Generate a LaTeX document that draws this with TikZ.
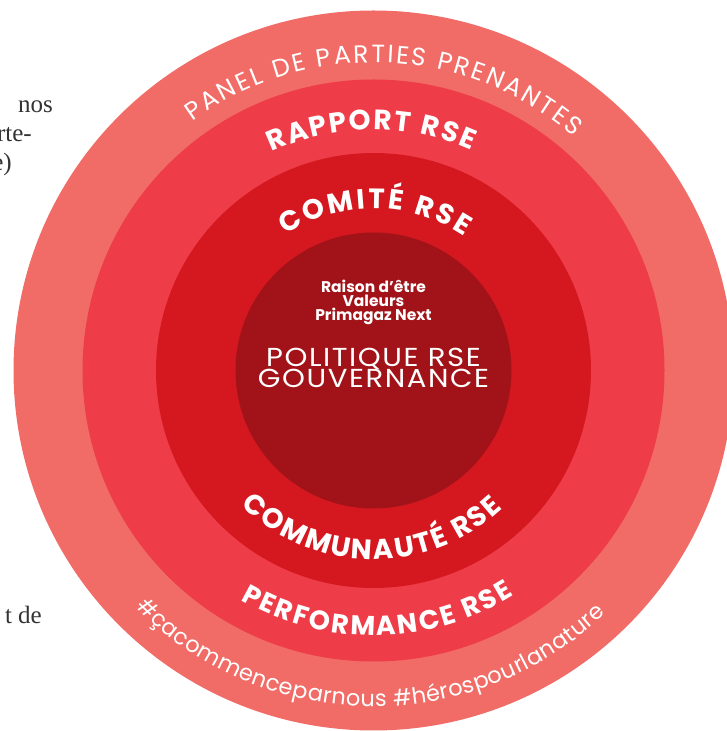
\documentclass[tikz,border=0pt]{standalone}
\usepackage{fontspec}
\setmainfont{Liberation Serif}
\newfontfamily\pop{Poppins}
\newfontfamily\popwide[FakeStretch=1.12,LetterSpace=6]{Poppins}
\usetikzlibrary{decorations.text}
\definecolor{ringA}{HTML}{F16C67}
\definecolor{ringB}{HTML}{EE3C48}
\definecolor{ringC}{HTML}{D51820}
\definecolor{ringD}{HTML}{A11318}
\definecolor{bodytext}{HTML}{333333}
\tikzset{
  ring/.style={circle, draw=none, inner sep=0pt, fill=#1},
  pagetext/.style={anchor=base east, inner sep=0pt, text=bodytext, font=\fontsize{25}{30}\selectfont},
  smallc/.style={anchor=base, inner sep=0pt, text=white, font=\pop\bfseries\fontsize{15.5}{18}\selectfont},
  bigc/.style={anchor=base, inner sep=0pt, text=white, font=\popwide\fontsize{26}{30}\selectfont},
}
\begin{document}
\begin{tikzpicture}[x=1pt,y=1pt]
\useasboundingbox (0,0) rectangle (727,731);
\clip (0,0) rectangle (727,731);
\coordinate (c) at (373.5,360.5);
\node[ring=ringA, minimum size=720pt] (r1) at (c) {};
\node[ring=ringB, minimum size=582pt] (r2) at (c) {};
\node[ring=ringC, minimum size=435pt] (r3) at (c) {};
\node[ring=ringD, minimum size=276pt] (r4) at (c) {};
% curved texts
\path[decorate, decoration={text along path, text align={fit to path}, text color=white,
  text={|\pop\fontsize{25}{30}\selectfont|PANEL DE PARTIES PRENANTES}}]
  (c) ++(126:308pt) arc[start angle=126, end angle=49.5, radius=308pt];
\path[decorate, decoration={text along path, text align={fit to path}, text color=white,
  text={|\pop\bfseries\fontsize{28}{32}\selectfont|RAPPORT RSE}}]
  (c) ++(115:241pt) arc[start angle=115, end angle=66, radius=241pt];
\path[decorate, decoration={text along path, text align={fit to path}, text color=white,
  text={|\pop\bfseries\fontsize{28}{32}\selectfont|COMITÉ RSE}}]
  (c) ++(123:162pt) arc[start angle=123, end angle=56, radius=162pt];
\path[decorate, decoration={text along path, text align={fit to path}, text color=white,
  text={|\pop\bfseries\fontsize{28}{32}\selectfont|COMMUNAUTÉ RSE}}]
  (c) ++(225.5:189pt) arc[start angle=225.5, end angle=313, radius=189pt];
\path[decorate, decoration={text along path, text align={fit to path}, text color=white,
  text={|\pop\bfseries\fontsize{27}{32}\selectfont|PERFORMANCE RSE}}]
  (c) ++(240:265pt) arc[start angle=240, end angle=302, radius=265pt];
\path[decorate, decoration={text along path, text align={fit to path}, text color=white,
  text={|\pop\fontsize{22.5}{27}\selectfont|{\#}çacommenceparnous {\#}hérospourlanature}}]
  (c) ++(224.8:336pt) arc[start angle=224.8, end angle=313.6, radius=336pt];
% centre texts
\node[smallc] (t1) at (373.5,438) {Raison d’être};
\node[smallc] (t2) at (373.5,424) {Valeurs};
\node[smallc] (t3) at (373.5,410) {Primagaz Next};
\node[bigc] (t4) at (373.5,364) {POLITIQUE RSE};
\node[bigc] (t5) at (373.5,343) {GOUVERNANCE};
% page text fragments
\node[pagetext] (p1) at (53,618) {nos};
\node[pagetext] (p2) at (32,589) {rte-};
\node[pagetext] (p3) at (12,560) {e)};
\node[pagetext] (p4) at (42,107) {t de};
\end{tikzpicture}
\end{document}
